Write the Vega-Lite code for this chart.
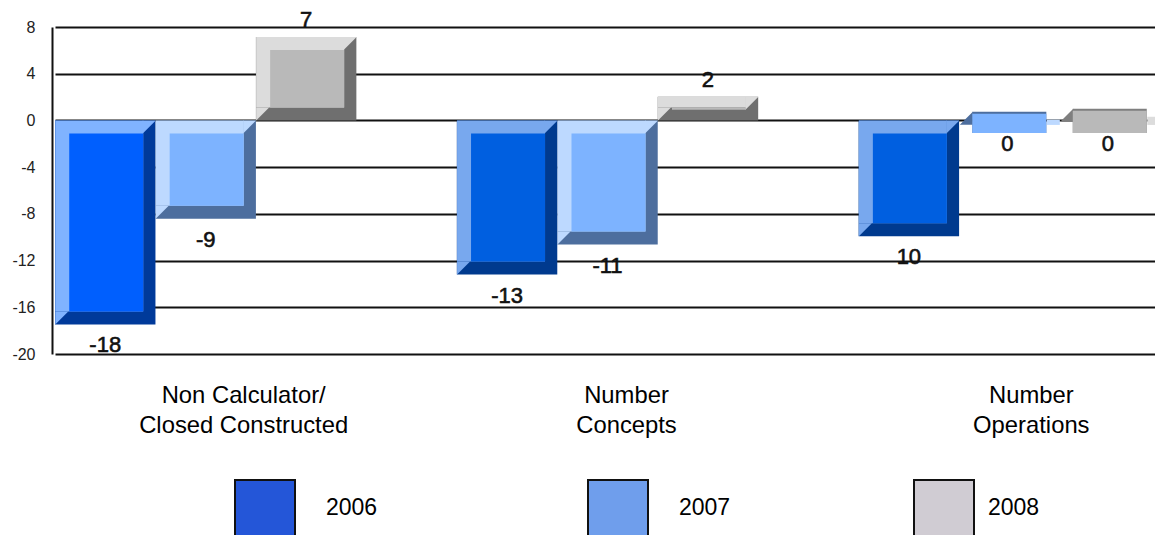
{
"$schema":"https://vega.github.io/schema/vega-lite/v6.json",
"width":1103,"height":327,
"autosize":{"type":"none"},
"padding":{"left":52,"top":27,"right":0,"bottom":181},
"background":"white",
"config":{"view":{"stroke":null},"font":"Liberation Sans"},
"data":{"values":[
{"cat":"Non Calculator/ Closed Constructed","slot":"A2006","year":"2006","low":-17.47,"high":0,"label":"-18","shade":"2006a","kind":"bar"},
{"cat":"Non Calculator/ Closed Constructed","slot":"A2007","year":"2007","low":-8.41,"high":0,"label":"-9","shade":"2007","kind":"bar"},
{"cat":"Non Calculator/ Closed Constructed","slot":"A2008","year":"2008","low":0,"high":7.15,"label":"7","shade":"2008","kind":"bar"},
{"cat":"Number Concepts","slot":"B2006","year":"2006","low":-13.2,"high":0,"label":"-13","shade":"2006b","kind":"bar"},
{"cat":"Number Concepts","slot":"B2007","year":"2007","low":-10.63,"high":0,"label":"-11","shade":"2007","kind":"bar"},
{"cat":"Number Concepts","slot":"B2008","year":"2008","low":0,"high":2.02,"label":"2","shade":"2008","kind":"bar"},
{"cat":"Number Operations","slot":"C2006","year":"2006","low":-9.92,"high":0,"label":"10","shade":"2006b","kind":"bar"},
{"cat":"Number Operations","slot":"C2007","year":"2007","low":-1.07,"high":0.75,"label":"0","shade":"2007","kind":"flat"},
{"cat":"Number Operations","slot":"C2008","year":"2008","low":-1.07,"high":1.0,"label":"0","shade":"2008","kind":"flat"}
]},
"encoding":{
"x":{"field":"slot","type":"nominal",
 "scale":{"domain":["A2006","A2007","A2008","gap1","B2006","B2007","B2008","gap2","C2006","C2007","C2008"],"range":[3,1108],"paddingInner":0,"paddingOuter":0},
 "axis":{"title":null,"values":["A2007","B2007","C2007"],"domain":false,"ticks":false,"labelAngle":0,"labelPadding":29,"labelFontSize":23.8,"labelColor":"#000","labelLimit":0,"labelFont":"Liberation Sans","labelLineHeight":30,
  "labelExpr":"datum.value=='A2007'?['Non Calculator/','Closed Constructed']:datum.value=='B2007'?['Number','Concepts']:['Number','Operations']",
  "encoding":{"labels":{"dx":{"value":{"expr":"datum.value=='A2007'?38:datum.value=='B2007'?19:22"}}}}}}
},
"layer":[
{"mark":{"type":"bar","opacity":0},
 "encoding":{
  "y":{"field":"high","type":"quantitative","scale":{"domain":[-20,8],"nice":false,"zero":false},
   "axis":{"title":null,"values":[8,4,0,-4,-8,-12,-16,-20],"grid":true,"gridColor":"#111","gridWidth":2,"gridOpacity":1,"domain":true,"domainColor":"#111","domainWidth":2,"ticks":false,"labelPadding":17,"labelFontSize":16,"labelColor":"#222","labelExpr":"''+datum.value"}},
  "y2":{"field":"low"},
  "color":{"field":"year","type":"nominal","scale":{"domain":["2006","2007","2008"],"range":["#2456d8","#6f9eec","#d0ccd3"]},
   "legend":{"title":null,"orient":"none","legendX":182,"legendY":452,"columns":3,"direction":"horizontal","columnPadding":179,"symbolType":"square","symbolSize":3600,"symbolOpacity":1,"symbolStrokeColor":"#111","symbolStrokeWidth":2,"labelFontSize":23,"labelColor":"#000","labelOffset":30,"padding":0,
    "encoding":{"symbols":{"x":{"value":{"expr":"31+(datum.value=='2007'?30:0)"}}},"labels":{"dx":{"value":{"expr":"datum.value=='2007'?30:datum.value=='2008'?-17:0"}},"dy":{"value":-2}}}}}
 }},
{"transform":[{"filter":"datum.kind=='bar'"}],
 "mark":{"type":"bar"},
 "encoding":{"y":{"field":"high","type":"quantitative"},"y2":{"field":"low"},
  "color":{"field":"shade","type":"nominal","legend":null,"scale":{"domain":["2006a","2006b","2007","2008"],"range":["#003a9a","#003a8e","#4d6e9e","#6f6f6f"]}}}},
{"transform":[{"filter":"datum.kind=='bar'"}],
 "mark":{"type":"bar","width":88,"xOffset":-6,"y2Offset":-13},
 "encoding":{"y":{"field":"high","type":"quantitative"},"y2":{"field":"low"},
  "color":{"field":"shade","type":"nominal","legend":null,"scale":{"domain":["2006a","2006b","2007","2008"],"range":["#80b3ff","#78a8ee","#bdd9ff","#dcdcdc"]}}}},
{"transform":[{"filter":"datum.kind=='bar'"}],
 "mark":{"type":"point","filled":true,"opacity":1,"shape":"M-1,-1L1,-1L-1,1Z","size":169,"xOffset":44,"yOffset":6.5},
 "encoding":{"y":{"field":"high","type":"quantitative"},
  "color":{"field":"shade","type":"nominal","legend":null,"scale":{"domain":["2006a","2006b","2007","2008"],"range":["#80b3ff","#78a8ee","#bdd9ff","#dcdcdc"]}}}},
{"transform":[{"filter":"datum.kind=='bar'"}],
 "mark":{"type":"point","filled":true,"opacity":1,"shape":"M-1,-1L1,-1L-1,1Z","size":169,"xOffset":-43.5,"yOffset":-6.5},
 "encoding":{"y":{"field":"low","type":"quantitative"},
  "color":{"field":"shade","type":"nominal","legend":null,"scale":{"domain":["2006a","2006b","2007","2008"],"range":["#80b3ff","#78a8ee","#bdd9ff","#dcdcdc"]}}}},
{"transform":[{"filter":"datum.kind=='bar'"}],
 "mark":{"type":"bar","width":74,"xOffset":1,"yOffset":13,"y2Offset":-13},
 "encoding":{"y":{"field":"high","type":"quantitative"},"y2":{"field":"low"},
  "color":{"field":"shade","type":"nominal","legend":null,"scale":{"domain":["2006a","2006b","2007","2008"],"range":["#005ffe","#005fe0","#7db3ff","#b9b9b9"]}}}},
{"transform":[{"filter":"datum.kind=='flat'"}],
 "mark":{"type":"bar","width":13,"xOffset":44,"yOffset":8,"y2Offset":-8},
 "encoding":{"y":{"field":"high","type":"quantitative"},"y2":{"field":"low"},
  "color":{"field":"shade","type":"nominal","legend":null,"scale":{"domain":["2007","2008"],"range":["#bdd9ff","#dcdcdc"]}}}},
{"transform":[{"filter":"datum.kind=='flat'"}],
 "mark":{"type":"point","filled":true,"opacity":1,"shape":"M-1,1L1,-1L1,1Z","size":169,"xOffset":-43,"yOffset":6.5},
 "encoding":{"y":{"field":"high","type":"quantitative"},
  "color":{"field":"shade","type":"nominal","legend":null,"scale":{"domain":["2007","2008"],"range":["#4d6e9e","#7f7f7f"]}}}},
{"transform":[{"filter":"datum.kind=='flat'"}],
 "mark":{"type":"bar","width":74},
 "encoding":{"y":{"field":"high","type":"quantitative"},"y2":{"field":"low"},
  "color":{"field":"shade","type":"nominal","legend":null,"scale":{"domain":["2007","2008"],"range":["#4d6e9e","#7f7f7f"]}}}},
{"transform":[{"filter":"datum.kind=='flat'"}],
 "mark":{"type":"bar","width":74,"yOffset":2},
 "encoding":{"y":{"field":"high","type":"quantitative"},"y2":{"field":"low"},
  "color":{"field":"shade","type":"nominal","legend":null,"scale":{"domain":["2007","2008"],"range":["#7db3ff","#b9b9b9"]}}}},
{"transform":[{"filter":"datum.kind=='bar' && datum.low<0"}],
 "mark":{"type":"text","fontSize":22,"color":"#111","stroke":"#111","strokeWidth":0.6,"dy":21},
 "encoding":{"y":{"field":"low","type":"quantitative"},"text":{"field":"label"}}},
{"transform":[{"filter":"datum.kind=='bar' && datum.low==0"}],
 "mark":{"type":"text","fontSize":22,"color":"#111","stroke":"#111","strokeWidth":0.6,"dy":-17},
 "encoding":{"y":{"field":"high","type":"quantitative"},"text":{"field":"label"}}},
{"transform":[{"filter":"datum.kind=='flat'"}],
 "mark":{"type":"text","fontSize":22,"color":"#111","stroke":"#111","strokeWidth":0.6,"dy":11,"dx":-2},
 "encoding":{"y":{"field":"low","type":"quantitative"},"text":{"field":"label"}}}
],
"resolve":{"scale":{"color":"independent"}}
}
